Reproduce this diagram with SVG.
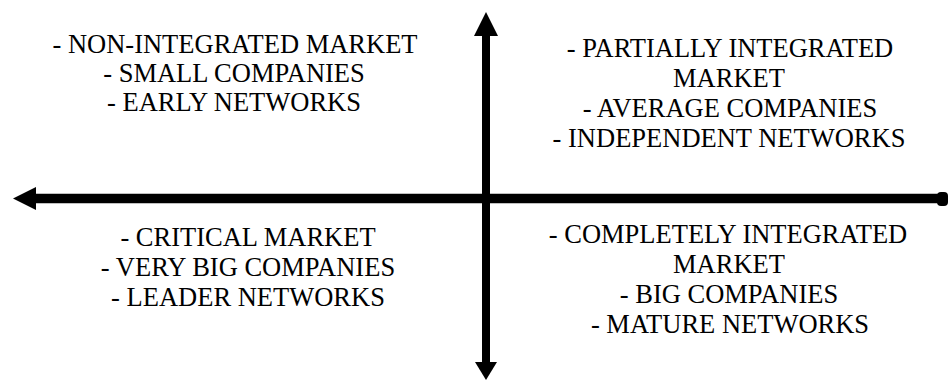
<svg xmlns="http://www.w3.org/2000/svg" width="951" height="381" viewBox="0 0 951 381">
<style>
text{font-family:"Liberation Serif","Times New Roman",serif;font-size:26.5px;fill:#000;text-anchor:middle}
.ax{stroke:#000;fill:none}
.hd{fill:#000;stroke:none}
</style>
<rect width="951" height="381" fill="#fff"/>
<g id="connectors">
<line class="ax" x1="486" y1="32" x2="486" y2="366" stroke-width="8"/>
<path class="hd" d="M486 12 L498 36 L474 36 Z"/>
<path class="hd" d="M486 380 L497 362 L475 362 Z"/>
<line class="ax" x1="32" y1="198.5" x2="940" y2="198.5" stroke-width="9.5"/>
<path class="hd" d="M13 198.5 L36 187 L36 210 Z"/>
<rect class="hd" x="937" y="192" width="11" height="14" rx="4"/>
</g>
<g id="q-top-left">
<text x="235" y="53">- NON-INTEGRATED MARKET</text>
<text x="234" y="82">- SMALL COMPANIES</text>
<text x="234" y="111">- EARLY NETWORKS</text>
</g>
<g id="q-top-right">
<text x="730" y="57">- PARTIALLY INTEGRATED</text>
<text x="729" y="87">MARKET</text>
<text x="730" y="117">- AVERAGE COMPANIES</text>
<text x="729" y="147">- INDEPENDENT NETWORKS</text>
</g>
<g id="q-bottom-left">
<text x="248" y="246">- CRITICAL MARKET</text>
<text x="248" y="276">- VERY BIG COMPANIES</text>
<text x="248" y="306">- LEADER NETWORKS</text>
</g>
<g id="q-bottom-right">
<text x="728" y="243">- COMPLETELY INTEGRATED</text>
<text x="729" y="273">MARKET</text>
<text x="729" y="303">- BIG COMPANIES</text>
<text x="730" y="333">- MATURE NETWORKS</text>
</g>
</svg>
